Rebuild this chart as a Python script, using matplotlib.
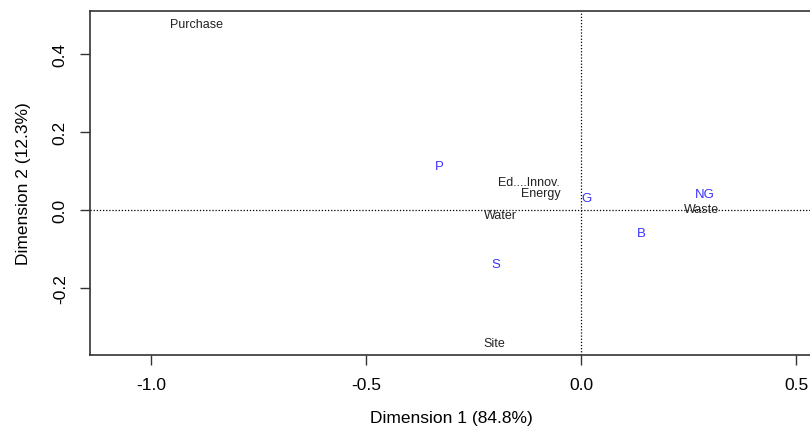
import matplotlib
matplotlib.use("Agg")
import matplotlib.pyplot as plt

plt.rcParams['font.family'] = ['Liberation Sans', 'DejaVu Sans']

# row points (blue) and column points (black)
row_labels = ["P", "G", "NG", "B", "S"]
row_x = [-0.330, 0.012, 0.288, 0.139, -0.198]
row_y = [0.113, 0.031, 0.041, -0.058, -0.137]

col_labels = ["Purchase", "Ed....Innov.", "Energy", "Waste", "Water", "Site"]
col_x = [-0.895, -0.121, -0.094, 0.279, -0.188, -0.202]
col_y = [0.476, 0.072, 0.043, 0.003, -0.013, -0.341]

x_ticks = [-1.0, -0.5, 0.0, 0.5]
y_ticks = [-0.2, 0.0, 0.2, 0.4]

fig = plt.figure(figsize=(8.1, 4.31), dpi=100)
ax = fig.add_axes([90 / 810, 75 / 431, 722 / 810, 344 / 431])

ax.axhline(0, color="black", lw=0.9, ls=(0, (1, 1.5)), zorder=1)
ax.axvline(0, color="black", lw=0.9, ls=(0, (1, 1.5)), zorder=1)

for lab, x, y in zip(row_labels, row_x, row_y):
    ax.text(x, y, lab, color="#3c32ff", fontsize=9.5, ha="center", va="center", zorder=3)
for lab, x, y in zip(col_labels, col_x, col_y):
    ax.text(x, y, lab, color="#222222", fontsize=9, ha="center", va="center", zorder=3)

ax.set_xlim(-1.142, 0.537)
ax.set_ylim(-0.371, 0.509)
ax.set_xticks(x_ticks)
ax.set_xticklabels(["-1.0", "-0.5", "0.0", "0.5"])
ax.set_yticks(y_ticks)
ax.set_yticklabels(["-0.2", "0.0", "0.2", "0.4"], rotation=90, va="center")
ax.tick_params(axis="both", length=7, width=1.0, color="#333333", labelsize=12.5)
ax.tick_params(axis="x", pad=9)
ax.tick_params(axis="y", pad=9)
for s in ax.spines.values():
    s.set_color("#333333")
    s.set_linewidth(1.2)

ax.set_xlabel("Dimension 1 (84.8%)", fontsize=12.5, labelpad=13)
ax.set_ylabel("Dimension 2 (12.3%)", fontsize=12.5, labelpad=16)

fig.savefig("out.png", dpi=100)
